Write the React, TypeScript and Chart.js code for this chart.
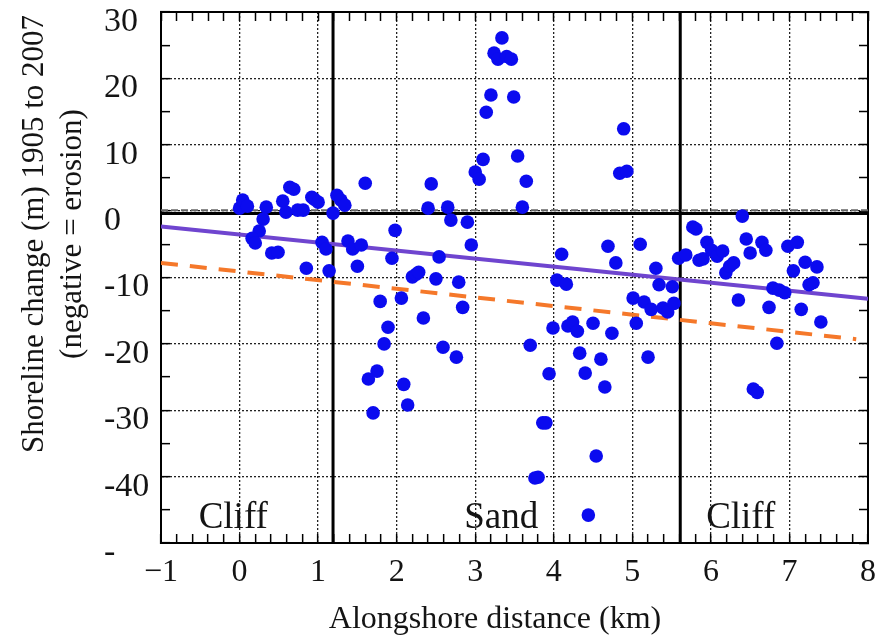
import { useEffect, useRef } from 'react';
import { Chart, registerables } from 'chart.js';

Chart.register(...registerables);

// Alongshore distance (km) of each transect
const distanceKm = [
  0.0, 0.04, 0.1, 0.34, 0.3, 0.25, 0.16, 0.2, 0.41, 0.49,
  0.64, 0.69, 0.55, 0.59, 0.74, 0.81, 0.85, 0.92, 0.95, 1.0,
  1.05, 1.1, 1.19, 1.14, 1.24, 1.29, 1.34, 1.6, 1.38, 1.44,
  1.55, 1.5, 1.98, 1.94, 1.79, 1.89, 1.84, 1.75, 1.64, 1.7,
  2.06, 2.09, 2.14, 2.2, 2.25, 2.28, 2.5, 2.79, 2.84, 2.34,
  2.59, 2.76, 2.54, 2.44, 2.4, 2.65, 2.69, 2.9, 2.95, 3.1,
  3.0, 3.05, 3.14, 3.2, 3.24, 3.29, 3.34, 3.4, 3.46, 3.49,
  3.54, 3.65, 3.6, 3.7, 3.76, 3.8, 3.86, 3.9, 3.94, 3.99,
  4.04, 4.16, 4.1, 4.18, 4.24, 4.3, 4.33, 4.4, 4.5, 4.54,
  4.44, 4.6, 4.65, 4.69, 4.74, 4.79, 4.89, 4.84, 4.93, 5.01,
  5.05, 5.1, 5.15, 5.24, 5.3, 5.34, 5.39, 5.45, 5.51, 5.53,
  5.2, 5.59, 5.68, 5.77, 5.81, 5.85, 5.9, 5.95, 6.01, 6.08,
  6.15, 6.19, 6.24, 6.29, 6.4, 6.45, 6.5, 6.65, 6.7, 6.35,
  6.54, 6.59, 6.74, 6.79, 6.87, 6.94, 6.84, 6.98, 7.1, 7.05,
  7.15, 7.2, 7.25, 7.3, 7.35, 7.4,
];

// Shoreline change 1905-2007 (m), negative = erosion
const shorelineChange = [
  0.45, 1.66, 0.75, 0.6, -1.2, -3.0, -4.1, -4.8, -6.3, -6.2,
  3.6, 3.3, 1.5, -0.15, 0.15, 0.15, -8.6, 2.1, 1.8, 1.35,
  -4.7, -5.7, -0.3, -9.0, 2.4, 1.66, 0.9, 4.2, -4.5, -5.7,
  -5.1, -8.3, -2.9, -7.1, -13.6, -17.5, -20.0, -24.1, -25.3, -30.4,
  -13.1, -26.1, -29.2, -9.9, -9.5, -9.2, -10.2, -10.7, -14.5, -16.1,
  -20.5, -22.0, -6.9, 4.1, 0.45, 0.6, -1.35, -1.66, -5.1, 7.8,
  5.9, 4.8, 14.9, 17.5, 23.8, 22.9, 26.1, 23.3, 22.9, 17.2,
  8.3, 4.5, 0.6, -20.2, -40.2, -40.1, -31.9, -31.9, -24.5, -17.6,
  -10.4, -11.0, -6.5, -17.3, -16.7, -18.1, -21.4, -24.4, -16.9, -36.9,
  -45.8, -22.3, -26.5, -5.3, -18.4, -7.8, 12.4, 5.7, 6.0, -13.1,
  -16.9, -5.0, -13.7, -14.8, -8.6, -11.1, -14.6, -15.2, -11.4, -13.9,
  -22.0, -7.1, -6.6, -2.4, -2.7, -7.4, -7.2, -4.7, -5.9, -6.8,
  -6.0, -9.3, -8.3, -7.8, -0.75, -4.2, -6.3, -4.7, -5.9, -13.4,
  -26.8, -27.3, -14.5, -11.6, -11.9, -12.3, -19.9, -5.3, -4.7, -9.0,
  -14.8, -7.7, -11.1, -10.8, -8.4, -16.7,
];

// Linear trend (purple, solid)
const trendX = [-1, 8];
const trendY = [-2.3, -13.2];
// Second trend (orange, dashed)
const trend2X = [-1, 7.85];
const trend2Y = [-7.8, -19.3];
// Zero reference lines
const zeroLineX = [-1, 8];
const zeroLineY = [-0.35, -0.35];
const zeroDashY = [0.15, 0.15];
// Cliff / sand boundaries (km)
const boundaryX = [1.19, 5.61];
const boundaryYRange = [-50, 30];

// Region labels
const regionNames = ['Cliff', 'Sand', 'Cliff'];
const regionX = [-0.08, 3.33, 6.38];
const regionLabelY = -47.7;

// Axes
const xMin = -1;
const xMax = 8;
const yMin = -50;
const yMax = 30;
const xTitle = 'Alongshore distance (km)';
const yTitleLines = ['Shoreline change (m) 1905 to 2007', '(negative = erosion)'];

const SERIF = "'Liberation Serif', 'Times New Roman', Times, serif";

function isInt(v: number) {
  return Math.abs(v - Math.round(v)) < 1e-6;
}

function noPad(s: any) {
  s.paddingTop = 0;
  s.paddingBottom = 0;
  s.paddingLeft = 0;
  s.paddingRight = 0;
}

export default function App() {
  const ref = useRef<HTMLCanvasElement>(null);

  useEffect(() => {
    const canvas = ref.current;
    if (!canvas) return;

    const textPlugin = {
      id: 'textPlugin',
      afterDraw(chart: any) {
        const ctx = chart.ctx as CanvasRenderingContext2D;
        const xs = chart.scales.x;
        const ys = chart.scales.y;
        ctx.save();
        ctx.fillStyle = '#141414';
        ctx.textAlign = 'center';
        ctx.textBaseline = 'alphabetic';
        ctx.font = `37px ${SERIF}`;
        regionNames.forEach((name, i) => {
          ctx.fillText(name, xs.getPixelForValue(regionX[i]), ys.getPixelForValue(regionLabelY));
        });
        ctx.font = `32px ${SERIF}`;
        ctx.fillText(xTitle, 495, 628);
        ctx.translate(35, 234);
        ctx.rotate(-Math.PI / 2);
        ctx.textBaseline = 'middle';
        ctx.font = `31px ${SERIF}`;
        yTitleLines.forEach((line, i) => ctx.fillText(line, 0, i * 38));
        ctx.restore();
      },
    };

    const lineDs = (xs: number[], ys: number[], color: string, width: number, dash: number[] = [], order = 1) => ({
      data: xs.map((x, i) => ({ x, y: ys[i] })),
      showLine: true,
      borderColor: color,
      borderWidth: width,
      borderDash: dash,
      pointRadius: 0,
      fill: false,
      order,
    });

    const chart = new Chart(canvas, {
      type: 'scatter',
      data: {
        datasets: [
          {
            data: distanceKm.map((x, i) => ({ x, y: shorelineChange[i] })),
            backgroundColor: '#0b0bef',
            borderWidth: 0,
            pointRadius: 6.8,
            order: 0,
          } as any,
          lineDs(trendX, trendY, '#6f45cf', 4),
          lineDs(trend2X, trend2Y, '#f5782a', 4, [17, 12]),
          lineDs(zeroLineX, zeroLineY, '#000000', 3, [], 2),
          lineDs(zeroLineX, zeroDashY, '#666666', 2, [7, 3], 2),
          ...boundaryX.map((bx) => lineDs([bx, bx], boundaryYRange, '#000000', 3, [], 2)),
        ],
      },
      options: {
        responsive: false,
        animation: false,
        events: [],
        layout: { padding: { left: 104, top: 12, right: 9, bottom: 0 } },
        plugins: {
          legend: { display: false },
          tooltip: { enabled: false },
        },
        scales: {
          x: {
            type: 'linear',
            position: 'bottom',
            min: xMin,
            max: xMax,
            afterFit: (s: any) => { s.height = 92; noPad(s); },
            ticks: {
              stepSize: 0.2,
              autoSkip: false,
              maxRotation: 0,
              padding: 19,
              color: '#141414',
              font: { family: SERIF, size: 32 },
              callback: (v: any) => {
                const n = Number(v);
                if (!isInt(n)) return '';
                const r = Math.round(n);
                return r < 0 ? '\u2212' + Math.abs(r) : String(r);
              },
            },
            grid: {
              color: (c: any) => {
                const v = c.tick ? c.tick.value : 0;
                return isInt(v) && v > xMin && v < xMax ? '#222' : 'transparent';
              },
              lineWidth: 1.3,
              tickColor: '#000',
              tickLength: -9,
              tickWidth: 1.5,
            },
            border: { color: '#000', width: 2, dash: [2, 2] },
          },
          x2: {
            type: 'linear',
            axis: 'x',
            position: 'top',
            display: true,
            min: xMin,
            max: xMax,
            afterFit: (s: any) => { s.height = 0; noPad(s); },
            ticks: { display: false, stepSize: 0.2, autoSkip: false },
            grid: { drawOnChartArea: false, tickColor: '#000', tickLength: -9, tickWidth: 1.5 },
            border: { color: '#000', width: 2 },
          },
          y: {
            type: 'linear',
            position: 'left',
            min: yMin,
            max: yMax,
            afterFit: (s: any) => { s.width = 57; noPad(s); },
            ticks: {
              stepSize: 5,
              autoSkip: false,
              crossAlign: 'far',
              labelOffset: 10,
              color: '#141414',
              font: { family: SERIF, size: 34 },
              callback: (v: any) => {
                const n = Math.round(Number(v));
                if (n % 10 !== 0) return '';
                return n === yMin ? '-' : String(n);
              },
            },
            grid: {
              color: (c: any) => {
                const v = c.tick ? c.tick.value : 0;
                return Math.round(v) % 10 === 0 && v > yMin && v < yMax ? '#222' : 'transparent';
              },
              lineWidth: 1.3,
              tickColor: '#000',
              tickLength: -9,
              tickWidth: 1.5,
            },
            border: { color: '#000', width: 2, dash: [2, 2] },
          },
          y2: {
            type: 'linear',
            axis: 'y',
            position: 'right',
            display: true,
            min: yMin,
            max: yMax,
            afterFit: (s: any) => { s.width = 0; noPad(s); },
            ticks: { display: false, stepSize: 5, autoSkip: false },
            grid: { drawOnChartArea: false, tickColor: '#000', tickLength: -9, tickWidth: 1.5 },
            border: { color: '#000', width: 2 },
          },
        } as any,
      },
      plugins: [textPlugin],
    });

    return () => chart.destroy();
  }, []);

  return (
    <div style={{ position: 'absolute', left: 0, top: 0, width: 877, height: 635, background: '#fff' }}>
      <canvas ref={ref} width={877} height={635} style={{ display: 'block' }} />
    </div>
  );
}
